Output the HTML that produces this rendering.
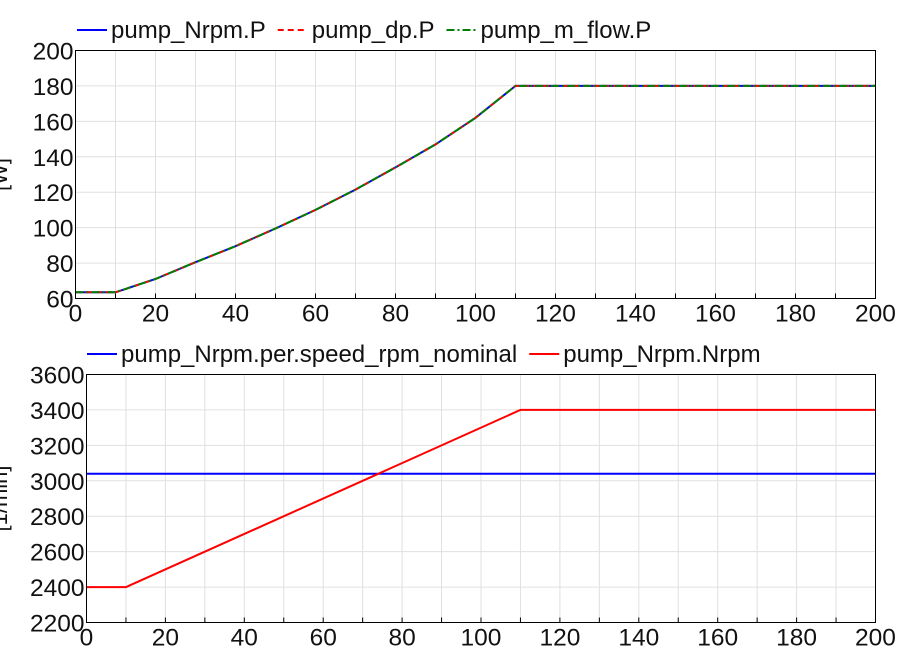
<!DOCTYPE html>
<html><head><meta charset="utf-8"><style>
html,body{margin:0;padding:0;background:#fff;width:900px;height:647px;overflow:hidden}
svg text{font-family:"Liberation Sans",sans-serif;fill:#111}
</style></head><body>
<svg id="c" width="900" height="647" xmlns="http://www.w3.org/2000/svg"></svg>
<script>
const timeTop=[0,10,20,30,40,50,60,70,80,90,100,110,120,140,160,180,200];
const powerNrpm=[63.5,63.5,71,80.5,89.5,99.5,110,121.5,134,147,162,180,180,180,180,180,180];
const powerDp=[63.5,63.5,71,80.5,89.5,99.5,110,121.5,134,147,162,180,180,180,180,180,180];
const powerMflow=[63.5,63.5,71,80.5,89.5,99.5,110,121.5,134,147,162,180,180,180,180,180,180];
const timeBot=[0,10,110,200];
const rpmNominal=[3040,3040,3040,3040];
const rpmActual=[2400,2400,3400,3400];
const xTicks=[0,20,40,60,80,100,120,140,160,180,200];
const yTicksTop=[60,80,100,120,140,160,180,200];
const yTicksBot=[2200,2400,2600,2800,3000,3200,3400,3600];

const svg=document.getElementById('c');
const NS='http://www.w3.org/2000/svg';
function mk(tag,attrs,parent,name,inter){
  const e=document.createElementNS(NS,tag);
  for(const k in attrs)e.setAttribute(k,attrs[k]);
  
  
  (parent||svg).appendChild(e);return e;
}
function panel(p){
  const g=mk('g',{},svg,p.name,false);
  const sx=v=>p.x0+(v-0)/(200-0)*(p.x1-p.x0);
  const sy=v=>p.y1-(v-p.ymin)/(p.ymax-p.ymin)*(p.y1-p.y0);
  for(let v=10;v<200;v+=10){
    mk('line',{x1:sx(v),x2:sx(v),y1:p.y0,y2:p.y1,stroke:'#e0e0e0','stroke-width':1},g,'x-gridline',false);
    mk('line',{x1:sx(v),x2:sx(v),y1:p.y1,y2:p.y1-5,stroke:'#000','stroke-width':1},g,'x-tick',false);
  }
  p.yt.forEach(v=>{
    if(v>p.ymin&&v<p.ymax){mk('line',{x1:p.x0,x2:p.x1,y1:sy(v),y2:sy(v),stroke:'#e0e0e0','stroke-width':1},g,'y-gridline',false);}
    const t=mk('text',{x:p.x0-2,y:sy(v)+9,'text-anchor':'end','font-size':24.5},g,'y-tick-label',false);
    t.textContent=v;
  });
  xTicks.forEach(v=>{
    const t=mk('text',{x:sx(v),y:p.y1+23,'text-anchor':'middle','font-size':24.5},g,'x-tick-label',false);
    t.textContent=v;
  });
  p.series.forEach(s=>{
    const pts=s.x.map((xv,i)=>sx(xv).toFixed(1)+','+sy(s.y[i]).toFixed(1)).join(' ');
    const a={points:pts,fill:'none',stroke:s.color,'stroke-width':2};
    if(s.dash)a['stroke-dasharray']=s.dash;
    mk('polyline',a,g,s.name,false);
  });
  mk('rect',{x:p.x0,y:p.y0,width:p.x1-p.x0,height:p.y1-p.y0,fill:'none',stroke:'#000','stroke-width':1},g,'plot-frame',false);
  const yt=mk('text',{transform:`translate(${p.titleX},${(p.y0+p.y1)/2}) rotate(-90)`,'text-anchor':'middle','font-size':22},g,'y-axis-title',false);
  yt.textContent=p.ytitle;
  let lx=p.legX;
  p.series.forEach(s=>{
    const a={x1:lx,x2:lx+30,y1:p.legY,y2:p.legY,stroke:s.color,'stroke-width':2};
    if(s.dash)a['stroke-dasharray']=s.dash;
    mk('line',a,g,'legend-swatch',false);
    const t=mk('text',{x:lx+34,y:p.legY+8,'font-size':24},g,'legend-entry',true);
    t.textContent=s.label;
    lx+=34+t.getComputedTextLength()+12;
  });
}
panel({name:'power-panel',x0:75.5,x1:875.5,y0:50.5,y1:298.5,ymin:60,ymax:200,yt:yTicksTop,ytitle:'[W]',titleX:7,legX:77,legY:30,
 series:[
  {name:'line-pump-nrpm-p',label:'pump_Nrpm.P',x:timeTop,y:powerNrpm,color:'#0000ff'},
  {name:'line-pump-dp-p',label:'pump_dp.P',x:timeTop,y:powerDp,color:'#ff0000',dash:'6,4'},
  {name:'line-pump-mflow-p',label:'pump_m_flow.P',x:timeTop,y:powerMflow,color:'#008000',dash:'8,3,2,3'}
 ]});
panel({name:'speed-panel',x0:86.5,x1:875.5,y0:374.5,y1:622.5,ymin:2200,ymax:3600,yt:yTicksBot,ytitle:'[1/min]',titleX:7,legX:87,legY:354,
 series:[
  {name:'line-speed-nominal',label:'pump_Nrpm.per.speed_rpm_nominal',x:timeBot,y:rpmNominal,color:'#0000ff'},
  {name:'line-speed-nrpm',label:'pump_Nrpm.Nrpm',x:timeBot,y:rpmActual,color:'#ff0000'}
 ]});
</script>
</body></html>
